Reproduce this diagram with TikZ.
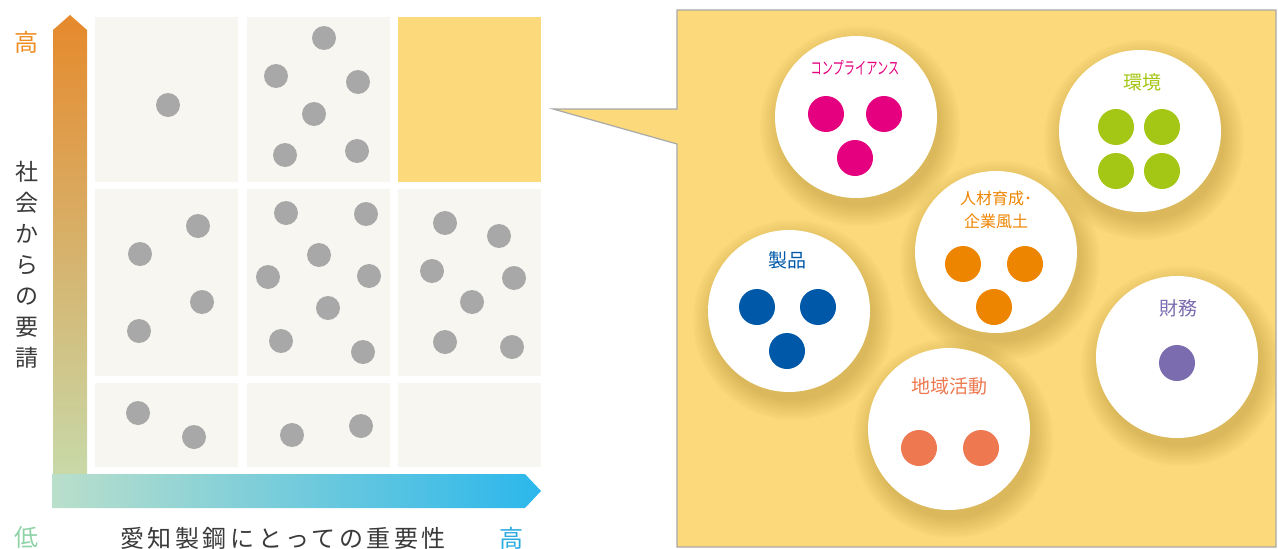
\documentclass[tikz,border=0pt]{standalone}
\usepackage{fontspec}
\setmainfont{Noto Sans CJK JP}
\definecolor{cellbg}{HTML}{F7F6F1}
\definecolor{hiyel}{HTML}{FCD97A}
\definecolor{dotgray}{HTML}{A8A8A8}
\definecolor{vtop}{HTML}{E6892C}
\definecolor{vbot}{HTML}{C8D9A8}
\definecolor{hleft}{HTML}{BADFCB}
\definecolor{hright}{HTML}{2BB7EC}
\definecolor{lblorange}{HTML}{EF8C22}
\definecolor{lblgreen}{HTML}{8ED2A6}
\definecolor{lblblue}{HTML}{29AAE1}
\definecolor{txtgray}{HTML}{3A3A3A}
\definecolor{panelborder}{HTML}{A9A9A9}
\definecolor{shadowcol}{HTML}{9A7A20}
\definecolor{cmag}{HTML}{E4007F}
\definecolor{cgreen}{HTML}{A4C615}
\definecolor{corange}{HTML}{EE8500}
\definecolor{cblue}{HTML}{0058A8}
\definecolor{cpurple}{HTML}{7B6BAF}
\definecolor{csalmon}{HTML}{EE7850}
\tikzset{
  cell/.style={fill=cellbg},
  gdot/.style={fill=dotgray},
  bubble/.style={circle, fill=white, minimum size=162pt, inner sep=0pt},
  softshadow/.style={fill=shadowcol, opacity=0.03},
  blabel/.style={font=\fontsize{19}{22}\selectfont, inner sep=0pt},
}
\begin{document}
\begin{tikzpicture}[x=1pt,y=-1pt]
\useasboundingbox (0,0) rectangle (1278,549);
% axes
\shade[top color=vtop, bottom color=vbot] (53,474) -- (53,30) -- (70,15) -- (87,30) -- (87,474) -- cycle;
\shade[left color=hleft, right color=hright] (52,474) -- (525,474) -- (541,491) -- (525,508) -- (52,508) -- cycle;
% cells
\fill[cell] (95,17) rectangle (238,182);
\fill[cell] (247,17) rectangle (390,182);
\fill[hiyel] (398,17) rectangle (541,182);
\fill[cell] (95,189) rectangle (238,376);
\fill[cell] (247,189) rectangle (390,376);
\fill[cell] (398,189) rectangle (541,376);
\fill[cell] (95,383) rectangle (238,467);
\fill[cell] (247,383) rectangle (390,467);
\fill[cell] (398,383) rectangle (541,467);
% gray dots
\foreach \p in {(168,105),
  (324,38),(276,76),(358,82),(314,114),(285,155),(357,151),
  (198,226),(140,254),(202,302),(139,331),
  (286,213),(366,214),(319,255),(268,277),(369,276),(328,308),(281,341),(363,352),
  (445,223),(499,236),(432,271),(514,278),(472,302),(445,342),(512,347),
  (138,413),(194,437),
  (292,435),(361,426)}
  \fill[gdot] \p circle (12);
% axis labels
\node[text=lblorange, font=\fontsize{24}{26}\selectfont, inner sep=0pt] (hiY) at (27,42) {高};
\node[text=txtgray, font=\fontsize{23}{31}\selectfont, align=center, inner sep=0pt] (ylab) at (27,265) {社\\会\\か\\ら\\の\\要\\請};
\node[text=lblgreen, font=\fontsize{24}{26}\selectfont, inner sep=0pt] (lo) at (27,537) {低};
\node[text=txtgray, font=\fontsize{24}{26}\selectfont\addfontfeatures{LetterSpace=15}, inner sep=0pt] (xlab) at (283,538) {愛知製鋼にとっての重要性};
\node[text=lblblue, font=\fontsize{24}{26}\selectfont, inner sep=0pt] (hiX) at (511,538) {高};
% callout panel
\draw[fill=hiyel, draw=panelborder, line width=1.2pt, line join=miter]
  (677,10) -- (1276,10) -- (1276,547) -- (677,547) -- (677,144) -- (553,109) -- (677,109) -- cycle;
% soft shadows
\begin{scope}
\clip (678,11) rectangle (1275,546);
\foreach \cx/\cy in {856/117,1140/131,996/252,789/311,1177/357,949/429}
  \foreach \r in {80,82,...,100}
    \fill[softshadow] (\cx+4,\cy+9) circle (\r);
\end{scope}
% bubbles
\node[bubble] (b1) at (856,117) {};
\node[bubble] (b2) at (1140,131) {};
\node[bubble] (b3) at (996,252) {};
\node[bubble] (b4) at (789,311) {};
\node[bubble] (b5) at (1177,357) {};
\node[bubble] (b6) at (949,429) {};
% labels
\node[text=cmag, inner sep=0pt] (l1) at (855,68) {\scalebox{0.66}[1]{\fontsize{17}{19}\selectfont コンプライアンス}};
\node[blabel, text=cgreen] (l2) at (1142,82) {環境};
\node[text=corange, font=\fontsize{16}{23}\selectfont, align=center, inner sep=0pt] (l3) at (996,210) {人材育成･\\企業風土};
\node[blabel, text=cblue] (l4) at (787,260) {製品};
\node[blabel, text=cpurple] (l5) at (1178,308) {財務};
\node[blabel, text=csalmon] (l6) at (949,386) {地域活動};
% colored dots
\fill[cmag] (826,114) circle (18) (884,114) circle (18) (855,158) circle (18);
\fill[cgreen] (1116,127) circle (18) (1162,127) circle (18) (1116,171) circle (18) (1162,171) circle (18);
\fill[corange] (963,264) circle (18) (1025,264) circle (18) (994,307) circle (18);
\fill[cblue] (757,307) circle (18) (818,307) circle (18) (787,351) circle (18);
\fill[cpurple] (1177,363) circle (18);
\fill[csalmon] (919,448) circle (18) (981,448) circle (18);
\end{tikzpicture}
\end{document}
